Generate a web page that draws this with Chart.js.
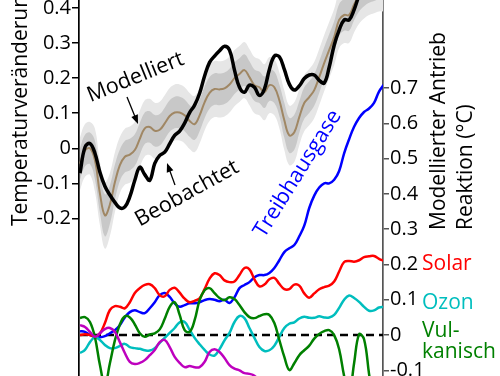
<!DOCTYPE html>
<html>
<head>
<meta charset="utf-8">
<script src="https://cdn.jsdelivr.net/npm/chart.js@4.4.1/dist/chart.umd.min.js"></script>
<style>
  html, body { margin: 0; padding: 0; background: #fff; }
  canvas { display: block; }
</style>
</head>
<body>
<canvas id="chart" width="500" height="376"></canvas>
<script>
// years, one point every 2 years
const years = [
  1880, 1882, 1884, 1886, 1888, 1890, 1892, 1894, 1896, 1898,
  1900, 1902, 1904, 1906, 1908, 1910, 1912, 1914, 1916, 1918,
  1920, 1922, 1924, 1926, 1928, 1930, 1932, 1934, 1936, 1938,
  1940, 1942, 1944, 1946, 1948, 1950, 1952, 1954, 1956, 1958,
  1960, 1962, 1964, 1966, 1968, 1970, 1972, 1974, 1976, 1978,
  1980, 1982, 1984, 1986, 1988, 1990, 1992, 1994, 1996, 1998,
  2000, 2002
];

// left axis: temperature change (°C)
const observed = [
  -0.071, 0.003, 0.014, -0.014, -0.068, -0.108, -0.133, -0.154, -0.170, -0.167,
  -0.138, -0.091, -0.054, -0.075, -0.091, -0.043, -0.020, -0.011, 0.013, 0.037,
  0.049, 0.072, 0.102, 0.123, 0.157, 0.206, 0.245, 0.263, 0.278, 0.291,
  0.280, 0.223, 0.174, 0.160, 0.180, 0.174, 0.151, 0.169, 0.225, 0.263,
  0.261, 0.225, 0.183, 0.166, 0.178, 0.199, 0.209, 0.209, 0.194, 0.186,
  0.231, 0.294, 0.337, 0.366, 0.366, 0.395, 0.435, 0.460, 0.480, 0.500,
  0.520, 0.540
];
const modelled = [
  -0.044, -0.006, 0.000, -0.034, -0.129, -0.191, -0.160, -0.097, -0.048, -0.024,
  -0.018, -0.005, 0.027, 0.057, 0.061, 0.050, 0.053, 0.071, 0.092, 0.102,
  0.102, 0.094, 0.078, 0.069, 0.094, 0.131, 0.158, 0.169, 0.168, 0.171,
  0.182, 0.200, 0.212, 0.223, 0.203, 0.180, 0.174, 0.160, 0.180, 0.174,
  0.137, 0.080, 0.037, 0.046, 0.089, 0.129, 0.146, 0.166, 0.203, 0.243,
  0.280, 0.317, 0.366, 0.380, 0.380, 0.410, 0.435, 0.450, 0.460, 0.465,
  0.470, 0.470
];
// half widths of the two model uncertainty bands
const spreadInner = [
  0.045, 0.045, 0.045, 0.055, 0.055, 0.060, 0.055, 0.050, 0.045, 0.045,
  0.045, 0.045, 0.045, 0.045, 0.045, 0.045, 0.045, 0.045, 0.045, 0.045,
  0.045, 0.045, 0.045, 0.045, 0.045, 0.045, 0.045, 0.045, 0.045, 0.045,
  0.045, 0.045, 0.045, 0.045, 0.045, 0.045, 0.045, 0.045, 0.045, 0.045,
  0.045, 0.050, 0.050, 0.050, 0.045, 0.045, 0.045, 0.045, 0.045, 0.045,
  0.045, 0.045, 0.045, 0.045, 0.045, 0.045, 0.045, 0.045, 0.045, 0.045,
  0.045, 0.045
];
const spreadOuter = [
  0.075, 0.075, 0.075, 0.090, 0.090, 0.095, 0.090, 0.085, 0.080, 0.080,
  0.080, 0.080, 0.080, 0.080, 0.080, 0.080, 0.080, 0.080, 0.080, 0.080,
  0.080, 0.080, 0.080, 0.080, 0.080, 0.080, 0.080, 0.080, 0.080, 0.080,
  0.080, 0.080, 0.080, 0.080, 0.080, 0.080, 0.080, 0.080, 0.080, 0.080,
  0.080, 0.085, 0.085, 0.085, 0.080, 0.080, 0.080, 0.080, 0.080, 0.080,
  0.080, 0.080, 0.080, 0.080, 0.080, 0.080, 0.080, 0.080, 0.080, 0.080,
  0.080, 0.080
];

// right axis: modelled forcing response (°C)
const greenhouse = [
  0.011, 0.009, 0.000, -0.005, -0.006, -0.003, 0.005, 0.014, 0.028, 0.050,
  0.065, 0.070, 0.065, 0.062, 0.076, 0.093, 0.113, 0.119, 0.108, 0.090,
  0.080, 0.085, 0.090, 0.090, 0.093, 0.099, 0.102, 0.100, 0.096, 0.100,
  0.091, 0.107, 0.133, 0.142, 0.150, 0.164, 0.170, 0.170, 0.176, 0.190,
  0.212, 0.235, 0.246, 0.255, 0.280, 0.310, 0.360, 0.395, 0.418, 0.430,
  0.430, 0.440, 0.465, 0.515, 0.555, 0.590, 0.615, 0.632, 0.642, 0.658,
  0.690, 0.710
];
const solar = [
  0.000, 0.002, 0.000, -0.005, 0.005, 0.034, 0.071, 0.082, 0.080, 0.076,
  0.093, 0.119, 0.133, 0.142, 0.144, 0.133, 0.113, 0.110, 0.128, 0.134,
  0.120, 0.103, 0.093, 0.097, 0.104, 0.130, 0.160, 0.175, 0.170, 0.155,
  0.150, 0.152, 0.170, 0.190, 0.186, 0.158, 0.138, 0.143, 0.158, 0.162,
  0.145, 0.130, 0.130, 0.143, 0.140, 0.118, 0.106, 0.118, 0.130, 0.136,
  0.140, 0.152, 0.180, 0.207, 0.210, 0.208, 0.212, 0.221, 0.223, 0.224,
  0.216, 0.210
];
const ozone = [
  -0.051, -0.042, -0.020, -0.006, -0.014, -0.028, -0.037, -0.037, -0.031, -0.025,
  -0.034, -0.037, -0.039, -0.043, -0.044, -0.037, -0.022, -0.008, 0.006, 0.020,
  0.036, 0.037, 0.015, -0.008, -0.026, -0.042, -0.055, -0.058, -0.040, -0.015,
  0.006, 0.037, 0.054, 0.048, 0.020, -0.008, -0.034, -0.045, -0.043, -0.030,
  -0.005, 0.020, 0.032, 0.036, 0.047, 0.052, 0.049, 0.049, 0.053, 0.050,
  0.050, 0.057, 0.077, 0.100, 0.112, 0.105, 0.094, 0.080, 0.069, 0.070,
  0.078, 0.080
];
const volcanic = [
  0.048, 0.051, 0.037, -0.006, -0.085, -0.140, -0.080, -0.015, 0.030, 0.053,
  0.050, 0.030, 0.005, -0.005, 0.002, 0.005, 0.016, 0.046, 0.080, 0.093,
  0.057, 0.014, 0.009, 0.042, 0.099, 0.127, 0.133, 0.119, 0.105, 0.099,
  0.107, 0.102, 0.085, 0.065, 0.051, 0.048, 0.054, 0.059, 0.057, 0.034,
  -0.014, -0.062, -0.099, -0.080, -0.057, -0.043, -0.030, -0.010, 0.003, 0.011,
  0.014, 0.000, -0.040, -0.116, -0.170, -0.080, 0.002, -0.012, -0.110, -0.200,
  -0.220, -0.200
];
const sulfate = [
  0.028, 0.023, 0.009, -0.005, 0.005, 0.017, 0.020, 0.009, -0.020, -0.051,
  -0.076, -0.082, -0.079, -0.071, -0.057, -0.042, -0.020, -0.014, -0.034, -0.062,
  -0.079, -0.091, -0.088, -0.091, -0.091, -0.076, -0.048, -0.040, -0.048, -0.065,
  -0.085, -0.095, -0.100, -0.108, -0.110, -0.115, -0.130, -0.150, -0.170, -0.190,
  -0.210, -0.230, -0.250, -0.260, -0.270, -0.280, -0.290, -0.300, -0.310, -0.320,
  -0.330, -0.340, -0.340, -0.350, -0.350, -0.360, -0.360, -0.370, -0.370, -0.380,
  -0.380, -0.380
];
const zeroLevel = 0;

const leftTicks = [-0.2, -0.1, 0, 0.1, 0.2, 0.3, 0.4];
const rightTicks = [-0.1, 0, 0.1, 0.2, 0.3, 0.4, 0.5, 0.6, 0.7];

const BLUE = '#0000ff', RED = '#ff0000', CYAN = 'rgb(0,190,190)', GREEN = 'rgb(0,128,0)', MAGENTA = 'rgb(190,0,190)';
const TAN = 'rgb(160,135,100)';

Chart.defaults.font.family = "'Open Sans', sans-serif";

const pts = (vals) => vals.map((v, i) => ({ x: years[i], y: v }));

const line = (label, vals, color, width, axis, extra = {}) => ({
  label,
  data: pts(vals),
  borderColor: color,
  backgroundColor: color,
  borderWidth: width,
  yAxisID: axis,
  pointRadius: 0,
  tension: 0.4,
  fill: false,
  clip: 0,
  ...extra,
});

const band = (label, vals, color, fill) => line(label, vals, 'rgba(0,0,0,0)', 0, 'y', { backgroundColor: color, fill });

const innerHigh = modelled.map((v, i) => v + spreadInner[i]);
const innerLow = modelled.map((v, i) => v - spreadInner[i]);
const outerHigh = modelled.map((v, i) => v + spreadOuter[i]);
const outerLow = modelled.map((v, i) => v - spreadOuter[i]);

// dataset 0 is drawn on top
const datasets = [
  line('Beobachtet', observed, '#000', 3.5, 'y'),
  line('Modelliert', modelled, TAN, 2, 'y'),
  line('Sulfat', sulfate, MAGENTA, 2.5, 'y2'),
  line('Vulkanisch', volcanic, GREEN, 2.5, 'y2'),
  line('Ozon', ozone, CYAN, 2.5, 'y2'),
  line('Solar', solar, RED, 2.5, 'y2'),
  line('Treibhausgase', greenhouse, BLUE, 2.5, 'y2'),
  line('Null', years.map(() => zeroLevel), '#000', 2.5, 'y2', { borderDash: [8, 5], tension: 0 }),
  band('inner hi', innerHigh, 'rgb(200,200,200)', '+1'),
  band('inner lo', innerLow, 'rgb(200,200,200)', false),
  band('outer hi', outerHigh, 'rgb(230,230,230)', '+1'),
  band('outer lo', outerLow, 'rgb(230,230,230)', false),
];

// texts and arrows drawn by hand on top
const annotate = {
  id: 'annotate',
  afterDraw(chart) {
    const { ctx } = chart;
    const put = (txt, x, y, deg, color, align = 'left', size = 21) => {
      ctx.save();
      ctx.translate(x, y);
      ctx.rotate(deg * Math.PI / 180);
      ctx.font = size + "px 'Open Sans', sans-serif";
      ctx.fillStyle = color;
      ctx.textAlign = align;
      ctx.textBaseline = 'alphabetic';
      ctx.fillText(txt, 0, 0);
      ctx.restore();
    };
    const arrow = (x1, y1, x2, y2) => {
      const a = Math.atan2(y2 - y1, x2 - x1);
      const c = Math.cos(a), s = Math.sin(a);
      ctx.save();
      ctx.strokeStyle = '#000';
      ctx.fillStyle = '#000';
      ctx.lineWidth = 1.3;
      ctx.beginPath();
      ctx.moveTo(x1, y1);
      ctx.lineTo(x2 - 6 * c, y2 - 6 * s);
      ctx.stroke();
      ctx.beginPath();
      ctx.moveTo(x2, y2);
      ctx.lineTo(x2 - 9 * c + 3.5 * s, y2 - 9 * s - 3.5 * c);
      ctx.lineTo(x2 - 9 * c - 3.5 * s, y2 - 9 * s + 3.5 * c);
      ctx.closePath();
      ctx.fill();
      ctx.restore();
    };

    put('Temperaturveränderung (°C)', 27, 226, -90, '#000');
    put('Modellierter Antrieb', 445, 230, -90, '#000');
    put('Reaktion (°C)', 472, 230, -90, '#000');

    put('Modelliert', 138, 83, -22, '#000', 'center', 21.5);
    put('Beobachtet', 190, 199, -29, '#000', 'center', 21.5);
    put('Treibhausgase', 303, 177, -58, BLUE, 'center', 21.5);
    arrow(127, 97, 138, 124);
    arrow(175, 185, 167, 163);

    put('Solar', 422, 270, 0, RED);
    put('Ozon', 422, 309, 0, CYAN);
    put('Vul-', 422, 337, 0, GREEN);
    put('kanisch', 422, 358, 0, GREEN);
  }
};

new Chart(document.getElementById('chart').getContext('2d'), {
  type: 'line',
  data: { datasets },
  plugins: [annotate],
  options: {
    responsive: false,
    animation: false,
    devicePixelRatio: 1,
    layout: { padding: 0 },
    plugins: { legend: { display: false }, tooltip: { enabled: false } },
    scales: {
      x: { type: 'linear', min: 1879.6, max: 2001.6, display: false },
      y: {
        position: 'left',
        min: -0.649,
        max: 0.4228,
        afterBuildTicks: (axis) => { axis.ticks = leftTicks.map((v) => ({ value: v })); },
        afterFit: (axis) => { axis.width = 79; axis.paddingTop = 0; axis.paddingBottom = 0; },
        border: { display: true, color: '#000', width: 1.7 },
        grid: { drawOnChartArea: false, color: '#000', lineWidth: 1.5, tickLength: 7 },
        ticks: { color: '#000', font: { size: 20 }, padding: 1, autoSkip: false, callback: (v) => String(v) },
      },
      y2: {
        position: 'right',
        min: -0.116,
        max: 0.9494,
        afterBuildTicks: (axis) => { axis.ticks = rightTicks.map((v) => ({ value: v })); },
        afterFit: (axis) => { axis.width = 117; axis.paddingTop = 0; axis.paddingBottom = 0; },
        border: { display: true, color: '#555', width: 1.7 },
        grid: { drawOnChartArea: false, color: '#555', lineWidth: 1.5, tickLength: 6 },
        ticks: { color: '#000', font: { size: 20 }, padding: 1, autoSkip: false, callback: (v) => String(v) },
      },
    },
  },
});
</script>
</body>
</html>
